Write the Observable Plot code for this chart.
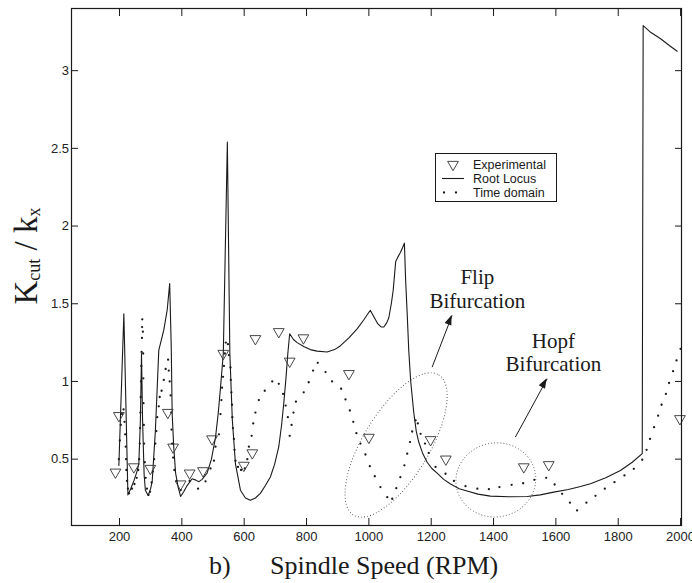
<!DOCTYPE html>
<html><head><meta charset="utf-8">
<script src="https://cdn.jsdelivr.net/npm/d3@7"></script>
<script src="https://cdn.jsdelivr.net/npm/@observablehq/plot@0.6"></script>
<style>
body{margin:0;background:#fff}
#chart{position:relative;width:692px;height:583px}
</style>
</head><body><div id="chart"></div>
<script>
// ---- data ----
const expRpm = [187,198,246,299,355,372,396,425,468,497,533,599,626,636,711,746,790,936,1000,1198,1247,1497,1577,1998];
const expVal = [0.416,0.78,0.45,0.44,0.80,0.577,0.34,0.41,0.425,0.63,1.18,0.46,0.54,1.275,1.32,1.13,1.28,1.05,0.64,0.625,0.50,0.45,0.464,0.76];

const rlRpm = [198,214,227,236,246,256,262,267,270.6,274,279,283,292,300,305,315,321,326,342,353,361,366,369,374,380,388,396,406,417,433,445,455,465,481,495,508,517,524,533,546,554,562,572,588,604,620,636,652,668,684,698,711,720,727,734,740,746,758,770,791,812,834,866,890,909,936,963,985,1000,1005,1015,1029,1040,1048,1058,1064,1072,1078,1083,1086,1093,1101,1108,1114,1118,1123,1128,1134,1144,1152,1160,1172,1187,1202,1219,1240,1262,1290,1315,1350,1390,1450,1508,1550,1593,1640,1679,1711,1760,1807,1845,1877,1880,1905,1936,1965,1989];
const rlVal = [0.46,1.435,0.27,0.31,0.36,0.42,0.47,0.75,1.18,0.75,0.40,0.30,0.266,0.31,0.36,0.68,0.96,1.20,1.33,1.46,1.63,1.22,0.79,0.58,0.41,0.32,0.26,0.29,0.33,0.374,0.365,0.355,0.37,0.41,0.50,0.64,0.80,0.96,1.18,2.54,1.18,0.75,0.47,0.30,0.25,0.235,0.25,0.28,0.33,0.385,0.47,0.58,0.72,0.86,1.02,1.18,1.307,1.27,1.25,1.225,1.205,1.195,1.19,1.205,1.23,1.28,1.34,1.40,1.445,1.457,1.42,1.37,1.35,1.35,1.38,1.41,1.50,1.585,1.70,1.77,1.80,1.83,1.86,1.89,1.65,1.435,1.20,1.006,0.80,0.68,0.61,0.54,0.48,0.44,0.41,0.37,0.34,0.31,0.295,0.275,0.262,0.258,0.26,0.27,0.288,0.305,0.324,0.342,0.38,0.427,0.48,0.535,3.29,3.245,3.205,3.16,3.125];

const tdRpm = [198,201,204,208,213,216,218,220,221,222,224,227,231,240,248,255,260,263,265,266,267,268,269,270,271,272,272.5,273,275,276,276.5,277,278,279,281,284,288,293,298,303,307,311,315,318,321,326,329,335,342,348,356,358,361,364,366,367,369,372,376,383,396,425,452,476,492,503,508,519,524,527,529,532,535,538,541,548,551,556,557,559,561,562,564,567,569,572,580,590,602,610,615,624,629,636,647,666,690,711,725,733,740,746,752,758,766,791,807,821,836,861,882,911,925,939,950,960,973,989,1003,1019,1037,1059,1075,1088,1101,1114,1123,1132,1139,1150,1157,1166,1180,1192,1214,1246,1273,1310,1348,1385,1419,1458,1495,1531,1569,1596,1620,1645,1668,1698,1727,1757,1788,1820,1850,1877,1891,1902,1915,1928,1939,1953,1963,1976,1987,2000];
const tdVal = [0.50,0.62,0.72,0.79,0.82,0.74,0.66,0.58,0.50,0.43,0.36,0.31,0.28,0.31,0.34,0.38,0.43,0.50,0.60,0.70,0.80,0.90,1.00,1.10,1.19,1.28,1.35,1.40,1.32,1.18,1.02,0.86,0.72,0.60,0.48,0.38,0.31,0.27,0.29,0.35,0.42,0.50,0.60,0.68,0.77,0.84,0.90,0.94,1.01,1.08,1.14,1.07,1.00,0.91,0.80,0.69,0.60,0.51,0.43,0.36,0.30,0.36,0.31,0.357,0.44,0.49,0.58,0.66,0.79,0.88,0.96,1.03,1.10,1.18,1.25,1.24,1.17,1.09,1.01,0.93,0.85,0.77,0.70,0.63,0.56,0.49,0.45,0.43,0.44,0.50,0.58,0.65,0.73,0.80,0.88,0.94,1.00,0.985,0.92,0.845,0.77,0.65,0.72,0.80,0.87,0.93,0.995,1.07,1.12,1.06,1.00,0.953,0.884,0.813,0.74,0.667,0.60,0.53,0.455,0.39,0.32,0.255,0.245,0.313,0.384,0.46,0.535,0.61,0.678,0.75,0.73,0.663,0.60,0.54,0.45,0.406,0.36,0.326,0.31,0.307,0.32,0.335,0.345,0.367,0.38,0.337,0.277,0.22,0.17,0.22,0.264,0.31,0.352,0.395,0.438,0.496,0.56,0.63,0.706,0.78,0.85,0.92,0.99,1.066,1.135,1.21];

const xTicks = [200,400,600,800,1000,1200,1400,1600,1800,2000];
const yTicks = [0.5,1,1.5,2,2.5,3];
const xDomain = [46, 2003];
const yDomain = [0.073, 3.40];

const seriesNames = ["Experimental","Root Locus","Time domain"];
const noteTexts = ["Flip\nBifurcation","Hopf\nBifurcation"];
const noteRpm = [1348, 1592];
const noteVal = [1.597, 1.189];
const arrowFromRpm = [1203, 1470];
const arrowFromVal = [1.092, 0.642];
const arrowToRpm = [1267, 1572];
const arrowToVal = [1.425, 1.017];
const ellipseRpm = [1089, 1409];
const ellipseVal = [0.588, 0.363];

const xLabel = "Spindle Speed (RPM)";
const panelLabel = "b)";

// ---- tables ----
const exp = expRpm.map((x,i)=>({x, y: expVal[i]}));
const rl = rlRpm.map((x,i)=>({x, y: rlVal[i]}));
const td = tdRpm.map((x,i)=>({x, y: tdVal[i]}));
const notes = noteTexts.map((t,i)=>({t, x: noteRpm[i], y: noteVal[i]}));
const arrows = arrowFromRpm.map((x1,i)=>({x1, y1: arrowFromVal[i], x2: arrowToRpm[i], y2: arrowToVal[i]}));

const W = 692, H = 583, mL = 71, mR = 11, mT = 8, mB = 58;
const ink = "#1a1a1a";
const fmt = d => String(d);

const plot = Plot.plot({
  width: W, height: H,
  marginLeft: mL, marginRight: mR, marginTop: mT, marginBottom: mB,
  style: {fontFamily: "'Liberation Sans', Arial, sans-serif", fontSize: "13px", color: "#222", background: "#fff", overflow: "visible"},
  x: {domain: xDomain, label: null},
  y: {domain: yDomain, label: null},
  marks: [
    Plot.axisX(xTicks, {anchor: "bottom", tickSize: -7, tickPadding: 13, tickFormat: fmt, label: null, stroke: ink}),
    Plot.axisX(xTicks, {anchor: "top", tickSize: -7, tickFormat: () => "", label: null, stroke: ink}),
    Plot.axisY(yTicks, {anchor: "left", tickSize: -7, tickPadding: 9.5, tickFormat: fmt, label: null, stroke: ink}),
    Plot.axisY(yTicks, {anchor: "right", tickSize: -7, tickFormat: () => "", label: null, stroke: ink}),
    Plot.line(rl, {x: "x", y: "y", stroke: ink, strokeWidth: 1.1}),
    Plot.dot(td, {x: "x", y: "y", r: 1.15, fill: ink, stroke: null}),
    Plot.dot(exp, {x: "x", y: "y", symbol: "triangle", rotate: 180, r: 4, stroke: "#333", strokeWidth: 0.9, fill: "none"}),
    Plot.text(notes, {x: "x", y: "y", text: "t", fontFamily: "'Liberation Serif', 'Times New Roman', serif", fontSize: 21, lineHeight: 1.11, fill: ink}),
    Plot.link(arrows, {x1: "x1", y1: "y1", x2: "x2", y2: "y2", stroke: ink, strokeWidth: 1}),
    Plot.frame({stroke: ink, strokeWidth: 1.2})
  ]
});

document.getElementById("chart").appendChild(plot);

// ---- annotations drawn through the same scales ----
const sx = d3.scaleLinear().domain(xDomain).range([mL, W - mR]);
const sy = d3.scaleLinear().domain(yDomain).range([H - mB, mT]);
const svg = d3.select(plot);

// dotted ellipses (sizes in px)
const ellSize = [[82, 33, -58.7], [40, 37, -10]];
ellipseRpm.forEach((r, i) => {
  const cx = sx(r), cy = sy(ellipseVal[i]);
  svg.append("ellipse")
    .attr("cx", 0).attr("cy", 0)
    .attr("rx", ellSize[i][0]).attr("ry", ellSize[i][1])
    .attr("transform", `translate(${cx},${cy}) rotate(${ellSize[i][2]})`)
    .attr("fill", "none").attr("stroke", "#444").attr("stroke-width", 0.9)
    .attr("stroke-dasharray", "0.9 2.2");
});

// filled arrowheads
arrows.forEach(a => {
  const x1 = sx(a.x1), y1 = sy(a.y1), x2 = sx(a.x2), y2 = sy(a.y2);
  const len = Math.hypot(x2 - x1, y2 - y1);
  const ux = (x2 - x1) / len, uy = (y2 - y1) / len;
  const L = 10, w = 3.6;
  const bx = x2 - ux * L, by = y2 - uy * L;
  svg.append("path")
    .attr("d", `M${x2},${y2}L${bx - uy * w},${by + ux * w}L${bx + uy * w},${by - ux * w}Z`)
    .attr("fill", ink);
});

// legend
const lg = svg.append("g").attr("font-family", "'Liberation Sans', Arial, sans-serif").attr("font-size", 12.5).attr("fill", ink).attr("text-anchor", "start");
lg.append("rect").attr("x", 435.5).attr("y", 153.5).attr("width", 121).attr("height", 48)
  .attr("fill", "#fff").attr("stroke", ink).attr("stroke-width", 1);
const rows = [164.5, 178.5, 192.5];
const tri = d3.symbol(d3.symbolTriangle, Math.PI * 16)();
lg.append("path").attr("d", tri).attr("transform", `translate(453,${rows[0]}) rotate(180)`)
  .attr("fill", "none").attr("stroke", "#333").attr("stroke-width", 0.9);
lg.append("line").attr("x1", 442).attr("x2", 464).attr("y1", rows[1]).attr("y2", rows[1]).attr("stroke", ink).attr("stroke-width", 1.1);
[444, 456].forEach(x => lg.append("circle").attr("cx", x).attr("cy", rows[2]).attr("r", 1.15).attr("fill", ink));
seriesNames.forEach((s, i) => lg.append("text").attr("x", 473).attr("y", rows[i]).attr("dy", "0.36em").text(s));

// axis titles
const serif = "'Liberation Serif', 'Times New Roman', serif";
svg.append("text").attr("x", 209).attr("y", 574).attr("text-anchor", "start").attr("font-family", serif).attr("font-size", 26).attr("fill", ink).text(panelLabel);
svg.append("text").attr("x", 270).attr("y", 574).attr("text-anchor", "start").attr("font-family", serif).attr("font-size", 26).attr("fill", ink).text(xLabel);

const yl = svg.append("text").attr("transform", "translate(37,256) rotate(-90)")
  .attr("text-anchor", "middle").attr("font-family", serif).attr("font-size", 33).attr("fill", ink);
yl.append("tspan").text("K");
yl.append("tspan").attr("font-size", 18).attr("dy", 3).text("cut");
yl.append("tspan").attr("dy", -3).text(" / k");
yl.append("tspan").attr("font-size", 18).attr("dy", 3).text("x");
</script>
</body></html>
